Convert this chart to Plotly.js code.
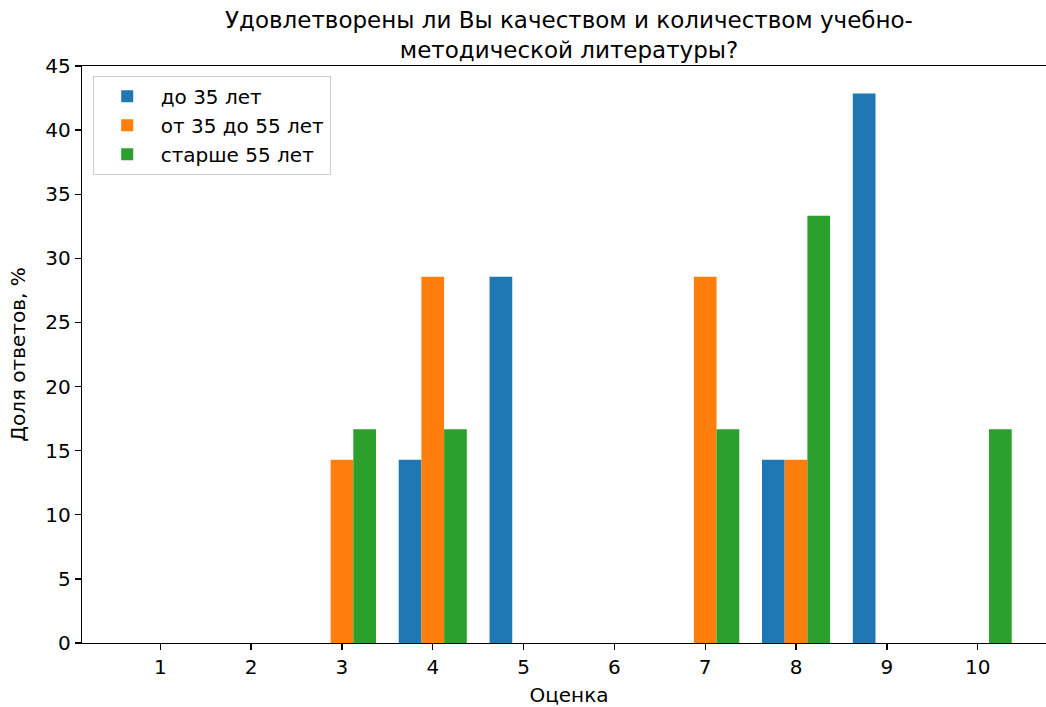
<!DOCTYPE html>
<html>
<head>
<meta charset="utf-8">
<script src="https://cdn.plot.ly/plotly-3.0.1.min.js"></script>
<style>
html,body{margin:0;padding:0;overflow:hidden;background:#fff;}
#chart{width:1060px;height:707px;}
</style>
</head>
<body>
<div id="chart"></div>
<script>
const scores = [1, 2, 3, 4, 5, 6, 7, 8, 9, 10];
const seriesNames = ["до 35 лет", "от 35 до 55 лет", "старше 55 лет"];
const under35 = [0, 0, 0, 14.29, 28.57, 0, 0, 14.29, 42.86, 0];
const from35to55 = [0, 0, 14.29, 28.57, 0, 0, 28.57, 14.29, 0, 0];
const over55 = [0, 0, 16.67, 16.67, 0, 0, 16.67, 33.33, 0, 16.67];
const colors = ["#1f77b4", "#ff7f0e", "#2ca02c"];

const font = {family: "DejaVu Sans, sans-serif", size: 20, color: "#000"};
const traces = [under35, from35to55, over55].map((vals, i) => ({
  type: "bar",
  x: scores,
  y: vals,
  name: seriesNames[i],
  marker: {color: colors[i], line: {width: 0}},
  hoverinfo: "x+y+name"
}));

const layout = {
  width: 1060,
  height: 707,
  margin: {l: 82, r: 4, t: 66, b: 63.5},
  paper_bgcolor: "#fff",
  plot_bgcolor: "#fff",
  font: font,
  barmode: "group",
  bargap: 0.25,
  bargroupgap: 0,
  title: {
    text: "Удовлетворены ли Вы качеством и количеством учебно-<br>методической литературы?",
    font: {family: "DejaVu Sans, sans-serif", size: 23, color: "#000"},
    x: 0.5, xref: "paper", xanchor: "center",
    y: 1 - 28 / 707, yref: "container", yanchor: "middle"
  },
  xaxis: {
    range: [0.1375, 10.8625],
    tickmode: "array",
    tickvals: scores,
    ticktext: scores.map(String),
    ticks: "outside", ticklen: 6, tickwidth: 1.3, tickcolor: "#000",
    showline: true, linecolor: "#000", linewidth: 1.3, mirror: true,
    showgrid: false, zeroline: false,
    tickfont: font,
    title: {text: "Оценка", font: font, standoff: 10}
  },
  yaxis: {
    range: [0, 45],
    dtick: 5,
    ticks: "outside", ticklen: 6, tickwidth: 1.3, tickcolor: "#000",
    showline: true, linecolor: "#000", linewidth: 1.3, mirror: true,
    showgrid: false, zeroline: false,
    tickfont: font,
    title: {text: "Доля ответов, %", font: font, standoff: 14}
  },
  legend: {
    x: 0.011, y: 0.983, xanchor: "left", yanchor: "top",
    bgcolor: "rgba(255,255,255,0.9)",
    bordercolor: "#cccccc", borderwidth: 1,
    font: {family: "DejaVu Sans, sans-serif", size: 20, color: "#000"},
    itemwidth: 57
  },
  showlegend: true
};

Plotly.newPlot("chart", traces, layout, {displayModeBar: false, staticPlot: true});
</script>
</body>
</html>
